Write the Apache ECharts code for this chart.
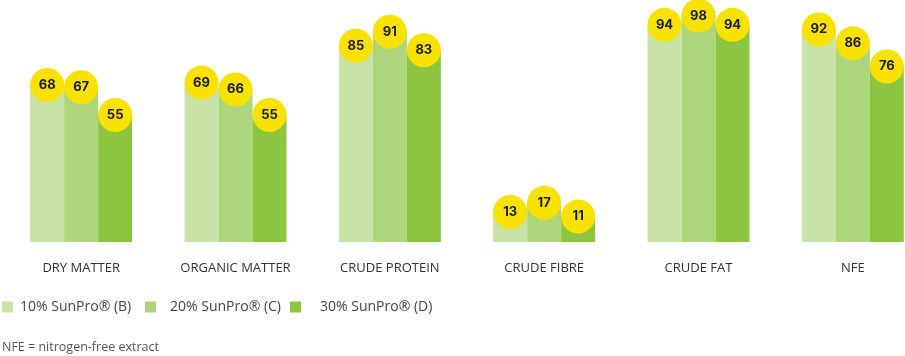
<!DOCTYPE html>
<html>
<head>
<meta charset="utf-8">
<script src="https://cdn.jsdelivr.net/npm/echarts@6/dist/echarts.min.js"></script>
<style>html,body{margin:0;padding:0;background:#fff}#c{width:905px;height:356px}</style>
</head>
<body>
<div id="c"></div>
<script>
const categories = ['DRY MATTER', 'ORGANIC MATTER', 'CRUDE PROTEIN', 'CRUDE FIBRE', 'CRUDE FAT', 'NFE'];
const seriesNames = ['10% SunPro® (B)', '20% SunPro® (C)', '30% SunPro® (D)'];
const valuesB = [68, 69, 85, 13, 94, 92];
const valuesC = [67, 66, 91, 17, 98, 86];
const valuesD = [55, 55, 83, 11, 94, 76];
const colors = ['#c9e3a7', '#add67c', '#8dc540'];
const footnote = 'NFE = nitrogen-free extract';

const allValues = [valuesB, valuesC, valuesD];
const chart = echarts.init(document.getElementById('c'), null, {renderer: 'canvas'});

const series = allValues.map((vals, i) => ({
  name: seriesNames[i],
  type: 'bar',
  data: vals,
  barWidth: 34,
  barGap: '0%',
  itemStyle: {color: colors[i]},
  label: {
    show: true,
    position: 'top',
    distance: 0,
    width: 34,
    height: 34,
    lineHeight: 34,
    align: 'center',
    verticalAlign: 'middle',
    backgroundColor: '#f9e100',
    borderRadius: 17,
    color: '#1c1c35',
    fontFamily: 'Inter',
    fontWeight: 'bold',
    fontSize: 13
  }
}));

const legendX = [2, 145, 290];
const legendPad = [2, 9, 14];

chart.setOption({
  animation: false,
  grid: {left: 4, width: 926, top: 11, height: 231, containLabel: false, outerBoundsMode: 'none'},
  xAxis: {
    type: 'category',
    data: categories,
    axisLine: {show: false},
    axisTick: {show: false},
    axisLabel: {
      margin: 20,
      color: '#333',
      fontFamily: 'Open Sans',
      fontSize: 13
    }
  },
  yAxis: {
    type: 'value',
    min: 0,
    max: 100,
    show: false,
    splitLine: {show: false}
  },
  legend: seriesNames.map((n, i) => ({
    data: [n],
    left: legendX[i],
    top: 300,
    padding: 0,
    itemWidth: 11,
    itemHeight: 11,
    icon: 'rect',
    textStyle: {
      color: '#444',
      fontFamily: 'Open Sans',
      fontSize: 14,
      padding: [0, 0, 0, legendPad[i]]
    }
  })),
  title: {
    text: footnote,
    left: 2,
    top: 341,
    padding: 0,
    textStyle: {color: '#555', fontFamily: 'Open Sans', fontSize: 12.5, fontWeight: 'normal'}
  },
  series: series
});
</script>
</body>
</html>
